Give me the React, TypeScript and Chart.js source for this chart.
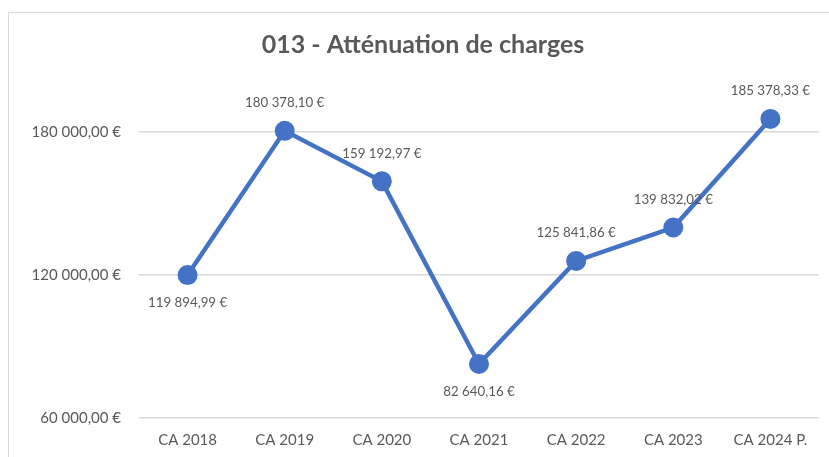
import React, { useEffect, useRef } from 'react';
import { Chart, registerables } from 'chart.js';

Chart.register(...registerables);

const title = '013 - Atténuation de charges';
const categories = ['CA 2018', 'CA 2019', 'CA 2020', 'CA 2021', 'CA 2022', 'CA 2023', 'CA 2024 P.'];
const values = [119894.99, 180378.1, 159192.97, 82640.16, 125841.86, 139832.02, 185378.33];
const yTicks = [60000, 120000, 180000];
const labelSides = ['below', 'above', 'above', 'below', 'above', 'above', 'above'];

const TEXT = '#595959';
const LINE = '#4472C4';
const FONT = 'Lato, "Open Sans", sans-serif';

function fmt(v: number): string {
  const [i, d] = v.toFixed(2).split('.');
  return i.replace(/\B(?=(\d{3})+(?!\d))/g, ' ') + ',' + d + ' €';
}

const labelPlugin = {
  id: 'pointLabels',
  afterDatasetsDraw(chart: any) {
    const ctx = chart.ctx;
    const meta = chart.getDatasetMeta(0);
    ctx.save();
    ctx.font = `13.3px ${FONT}`;
    ctx.fillStyle = TEXT;
    ctx.textAlign = 'center';
    ctx.textBaseline = 'middle';
    meta.data.forEach((pt: any, i: number) => {
      const dy = labelSides[i] === 'above' ? -28 : 28;
      ctx.fillText(fmt(values[i]), pt.x, pt.y + dy);
    });
    ctx.restore();
  },
};

export default function App() {
  const ref = useRef<HTMLCanvasElement>(null);
  useEffect(() => {
    if (!ref.current) return;
    const chart = new Chart(ref.current, {
      type: 'line',
      data: {
        labels: categories,
        datasets: [
          {
            data: values,
            borderColor: LINE,
            backgroundColor: LINE,
            borderWidth: 4.5,
            pointRadius: 10,
            pointHoverRadius: 10,
            pointBackgroundColor: LINE,
            pointBorderColor: LINE,
            pointBorderWidth: 0,
            tension: 0,
          },
        ],
      },
      options: {
        responsive: false,
        animation: false,
        layout: { padding: { left: 25, right: 8, top: 0, bottom: 0 } },
        plugins: {
          legend: { display: false },
          tooltip: { enabled: false },
          title: {
            display: true,
            text: title,
            color: TEXT,
            font: { family: FONT, size: 25, weight: 'bold', lineHeight: 1.2 },
            padding: { top: 30, bottom: 24 },
          },
        },
        scales: {
          x: {
            type: 'category',
            offset: true,
            grid: { display: false, drawTicks: false },
            border: { display: false },
            ticks: { color: TEXT, font: { family: FONT, size: 15 }, padding: 13, maxRotation: 0 },
            afterFit: (s: any) => {
              s.height = 39;
            },
          },
          y: {
            type: 'linear',
            min: 60000,
            max: 200000,
            afterBuildTicks: (s: any) => {
              s.ticks = yTicks.map((v) => ({ value: v }));
            },
            grid: { color: '#d9d9d9', lineWidth: 1.5, drawTicks: false },
            border: { display: false },
            ticks: {
              color: TEXT,
              font: { family: FONT, size: 15 },
              padding: 18,
              callback: (v: any) => fmt(Number(v)),
            },
            afterFit: (s: any) => {
              s.width = 114;
            },
          },
        },
      },
      plugins: [labelPlugin],
    });
    return () => chart.destroy();
  }, []);

  return (
    <div style={{ position: 'fixed', left: 0, top: 0, width: 829, height: 457, overflow: 'hidden', background: '#fff' }}>
      <div
        style={{
          position: 'absolute',
          left: 8,
          top: 12,
          width: 860,
          height: 500,
          border: '1.5px solid #d9d9d9',
          boxSizing: 'border-box',
        }}
      />
      <canvas ref={ref} width={829} height={457} style={{ position: 'absolute', left: 0, top: 0, display: 'block' }} />
    </div>
  );
}
